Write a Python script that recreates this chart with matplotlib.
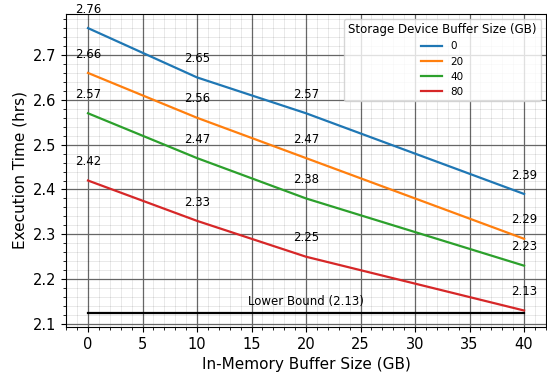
import matplotlib
matplotlib.use('Agg')
import matplotlib.pyplot as plt

mem_sizes = [0, 10, 20, 40]
dev_sizes = ['0', '20', '40', '80']
times_0 = [2.76, 2.65, 2.57, 2.39]
times_20 = [2.66, 2.56, 2.47, 2.29]
times_40 = [2.57, 2.47, 2.38, 2.23]
times_80 = [2.42, 2.33, 2.25, 2.13]
lower_bound = 2.125
lower_bound_label = 'Lower Bound (2.13)'

series = [times_0, times_20, times_40, times_80]
colors = ['#1f77b4', '#ff7f0e', '#2ca02c', '#d62728']

fig = plt.figure(figsize=(5.47, 3.75), dpi=100)
ax = fig.add_axes([0.121, 0.128, 0.877, 0.835])

for name, ys, c in zip(dev_sizes, series, colors):
    ax.plot(mem_sizes, ys, color=c, lw=1.6, label=name)
    for x, y in zip(mem_sizes, ys):
        ax.text(x, y + 0.042, f'{y:.2f}', ha='center', va='center', fontsize=8.5)

ax.plot([mem_sizes[0], mem_sizes[-1]], [lower_bound, lower_bound], color='black', lw=1.6)
ax.text((mem_sizes[0] + mem_sizes[-1]) / 2, lower_bound + 0.026, lower_bound_label,
        ha='center', va='center', fontsize=8.5)

ax.minorticks_on()
# minor grid is translucent so it darkens (not hides) the major lines where they cross
ax.grid(which='major', color='#666666', lw=0.9)
ax.grid(which='minor', color='black', alpha=0.1, lw=0.6)
ax.set_axisbelow(True)
ax.tick_params(labelsize=10.5)

ax.set_xlabel('In-Memory Buffer Size (GB)', fontsize=11)
ax.set_ylabel('Execution Time (hrs)', fontsize=11)

leg = ax.legend(title='Storage Device Buffer Size (GB)', loc='upper right',
                fontsize=7.5, title_fontsize=8.5, framealpha=0.8)

fig.savefig('out.png', dpi=100)
